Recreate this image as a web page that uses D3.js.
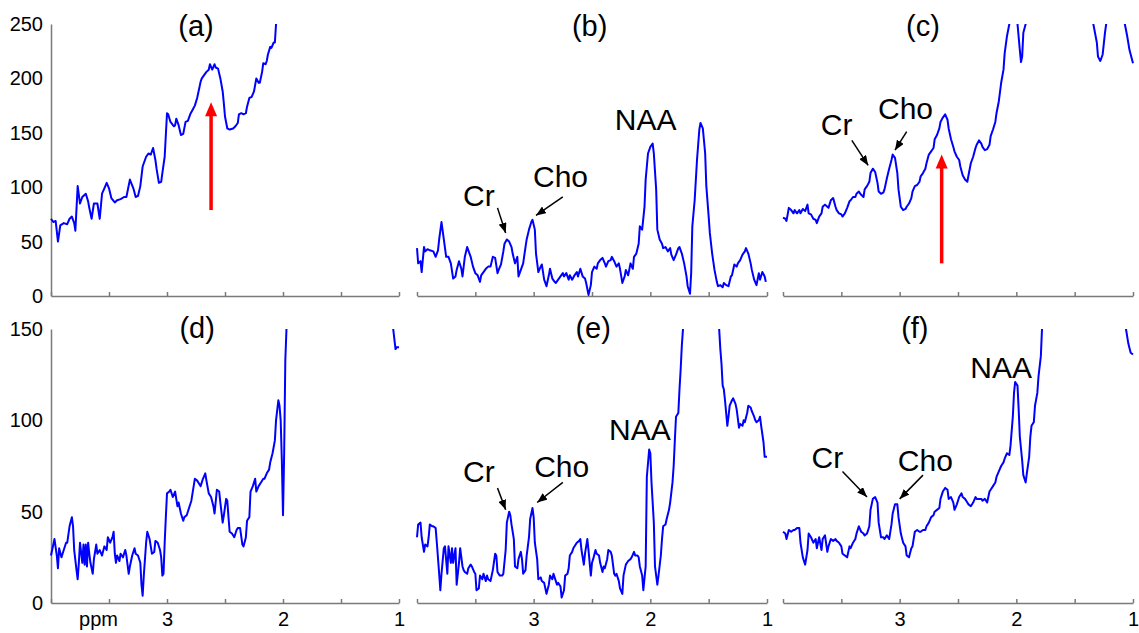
<!DOCTYPE html>
<html>
<head>
<meta charset="utf-8">
<script src="https://cdn.jsdelivr.net/npm/d3@7"></script>
<style>
  body { margin: 0; background: #fff; }
  svg { display: block; font-family: "Liberation Sans", Arial, sans-serif; }
  .axis path, .axis line { stroke: #7a7a7a; stroke-width: 1.5; }
  .axis text { font-size: 20px; fill: #000; font-family: "Liberation Sans", Arial, sans-serif; }
  .spec { fill: none; stroke: #0000ff; stroke-width: 2; stroke-linejoin: round; }
</style>
</head>
<body>
<svg width="1139" height="633"></svg>
<script>
// spectra: [ppm, signal]
const specA = [[4.00,71],[3.98,68],[3.96,69],[3.94,50],[3.92,65],[3.89,67],[3.86,66],[3.84,71],[3.82,73],[3.80,67],[3.79,60],[3.77,101],[3.75,85],[3.73,91],[3.70,94],[3.68,87],[3.67,81],[3.65,71],[3.63,85],[3.60,85],[3.58,71],[3.56,94],[3.54,99],[3.52,104],[3.50,99],[3.48,90],[3.45,86],[3.43,88],[3.40,89],[3.37,91],[3.35,91],[3.32,107],[3.29,99],[3.27,91],[3.25,92],[3.23,101],[3.21,119],[3.18,128],[3.16,131],[3.14,130],[3.12,136],[3.10,125],[3.09,117],[3.07,104],[3.05,105],[3.04,113],[3.02,128],[3.00,168],[2.99,167],[2.97,160],[2.94,156],[2.93,157],[2.92,163],[2.90,157],[2.88,148],[2.86,149],[2.84,160],[2.82,161],[2.80,167],[2.78,171],[2.76,175],[2.74,182],[2.71,197],[2.70,200],[2.68,203],[2.66,206],[2.64,208],[2.63,213],[2.61,208],[2.59,213],[2.58,210],[2.56,209],[2.54,200],[2.52,188],[2.51,177],[2.50,165],[2.48,154],[2.46,153],[2.43,154],[2.41,156],[2.39,159],[2.38,167],[2.36,168],[2.34,167],[2.32,168],[2.31,174],[2.29,182],[2.27,183],[2.25,188],[2.24,194],[2.23,200],[2.21,196],[2.20,196],[2.18,206],[2.17,214],[2.15,213],[2.14,216],[2.13,222],[2.11,229],[2.10,228],[2.08,233],[2.07,233],[2.06,250],[2.03,290],[1.80,380],[1.50,420],[1.20,400],[1.00,380]];

const specB = [[4.00,44],[3.99,30],[3.97,32],[3.96,22],[3.94,45],[3.93,41],[3.91,43],[3.89,42],[3.86,41],[3.84,36],[3.82,42],[3.81,52],[3.79,68],[3.77,52],[3.75,36],[3.73,36],[3.71,30],[3.69,16],[3.67,18],[3.66,24],[3.64,32],[3.62,25],[3.61,18],[3.59,36],[3.57,45],[3.55,39],[3.54,36],[3.52,27],[3.50,21],[3.48,19],[3.46,13],[3.45,19],[3.43,22],[3.41,25],[3.39,27],[3.37,27],[3.35,36],[3.33,35],[3.31,21],[3.30,24],[3.28,29],[3.26,41],[3.25,48],[3.23,52],[3.21,50],[3.19,45],[3.18,39],[3.16,30],[3.14,36],[3.13,18],[3.11,24],[3.09,30],[3.07,45],[3.06,52],[3.04,61],[3.02,68],[3.01,70],[2.99,61],[2.98,39],[2.96,22],[2.94,27],[2.93,29],[2.91,15],[2.89,9],[2.87,19],[2.86,25],[2.84,16],[2.82,13],[2.81,12],[2.79,15],[2.77,18],[2.75,21],[2.74,18],[2.72,21],[2.70,15],[2.69,19],[2.67,15],[2.65,19],[2.63,22],[2.62,18],[2.60,25],[2.58,18],[2.56,16],[2.55,12],[2.53,1],[2.51,10],[2.50,22],[2.48,27],[2.46,25],[2.45,30],[2.43,33],[2.41,35],[2.39,30],[2.38,27],[2.36,32],[2.34,33],[2.33,36],[2.31,32],[2.29,27],[2.27,30],[2.26,25],[2.24,12],[2.22,18],[2.21,24],[2.19,19],[2.17,30],[2.15,25],[2.14,36],[2.12,39],[2.10,48],[2.09,64],[2.07,61],[2.05,82],[2.04,107],[2.02,131],[2.00,137],[1.98,140],[1.97,131],[1.95,98],[1.94,61],[1.92,52],[1.90,48],[1.89,44],[1.87,45],[1.85,41],[1.83,44],[1.82,38],[1.80,33],[1.78,38],[1.76,44],[1.75,45],[1.73,39],[1.71,30],[1.69,18],[1.68,9],[1.66,2],[1.65,21],[1.64,64],[1.62,88],[1.60,125],[1.58,153],[1.57,159],[1.55,154],[1.53,131],[1.52,101],[1.50,73],[1.49,58],[1.47,39],[1.45,24],[1.43,13],[1.42,9],[1.40,10],[1.38,8],[1.37,12],[1.35,10],[1.33,9],[1.31,18],[1.30,19],[1.28,29],[1.26,27],[1.25,30],[1.23,33],[1.21,38],[1.19,41],[1.18,44],[1.16,39],[1.14,30],[1.13,24],[1.11,15],[1.09,10],[1.07,21],[1.06,15],[1.04,22],[1.02,18],[1.01,13]];

const specC = [[4.00,72],[3.98,71],[3.97,69],[3.95,81],[3.93,79],[3.91,76],[3.90,79],[3.88,76],[3.86,79],[3.85,76],[3.83,80],[3.81,78],[3.79,84],[3.78,76],[3.76,75],[3.74,71],[3.72,70],[3.71,67],[3.69,73],[3.67,76],[3.66,82],[3.64,84],[3.62,82],[3.61,81],[3.59,88],[3.57,90],[3.55,82],[3.54,79],[3.52,76],[3.50,75],[3.49,73],[3.47,76],[3.45,81],[3.43,87],[3.42,88],[3.40,91],[3.38,91],[3.37,94],[3.35,96],[3.33,93],[3.31,91],[3.30,98],[3.28,101],[3.26,105],[3.25,113],[3.23,117],[3.21,114],[3.19,104],[3.18,96],[3.16,94],[3.14,95],[3.13,98],[3.11,108],[3.09,117],[3.07,125],[3.06,130],[3.04,127],[3.02,113],[3.01,98],[2.99,82],[2.97,79],[2.95,80],[2.94,82],[2.92,85],[2.90,90],[2.89,96],[2.87,101],[2.85,102],[2.83,105],[2.82,110],[2.80,113],[2.78,117],[2.77,122],[2.75,130],[2.73,133],[2.71,136],[2.70,144],[2.68,148],[2.66,154],[2.65,160],[2.63,164],[2.61,167],[2.59,162],[2.58,154],[2.56,144],[2.54,137],[2.53,133],[2.51,128],[2.49,125],[2.48,119],[2.46,111],[2.44,107],[2.42,105],[2.41,111],[2.39,122],[2.37,128],[2.35,136],[2.34,139],[2.32,143],[2.30,140],[2.29,137],[2.27,134],[2.25,135],[2.23,139],[2.22,147],[2.20,153],[2.18,160],[2.17,168],[2.15,179],[2.13,196],[2.11,208],[2.10,223],[2.08,239],[2.06,250],[2.03,300],[2.00,290],[1.99,250],[1.97,226],[1.96,215],[1.95,220],[1.94,242],[1.92,250],[1.88,300],[1.70,420],[1.55,460],[1.40,330],[1.36,280],[1.34,250],[1.31,233],[1.30,220],[1.28,216],[1.26,222],[1.24,242],[1.23,250],[1.20,290],[1.12,300],[1.09,270],[1.07,250],[1.05,239],[1.03,226],[1.00,214]];

const specD = [[4.00,26],[3.98,32],[3.97,35],[3.95,26],[3.94,19],[3.93,30],[3.91,25],[3.89,29],[3.87,33],[3.86,33],[3.84,42],[3.82,47],[3.81,42],[3.80,29],[3.78,18],[3.77,13],[3.76,22],[3.75,33],[3.73,22],[3.72,32],[3.71,21],[3.70,32],[3.69,20],[3.68,33],[3.67,27],[3.66,22],[3.64,16],[3.63,24],[3.61,32],[3.60,27],[3.58,29],[3.56,26],[3.54,31],[3.52,29],[3.51,36],[3.49,33],[3.47,36],[3.46,39],[3.45,27],[3.44,22],[3.43,26],[3.41,23],[3.40,27],[3.38,25],[3.36,29],[3.35,26],[3.33,16],[3.32,20],[3.30,26],[3.28,30],[3.27,27],[3.25,26],[3.23,22],[3.22,10],[3.21,4],[3.20,15],[3.18,33],[3.17,39],[3.15,35],[3.13,27],[3.11,28],[3.10,34],[3.08,33],[3.06,29],[3.05,25],[3.04,15],[3.03,16],[3.02,33],[3.01,47],[3.00,60],[2.98,61],[2.97,62],[2.95,58],[2.93,61],[2.91,53],[2.90,55],[2.88,49],[2.86,45],[2.85,47],[2.83,48],[2.81,52],[2.79,56],[2.78,60],[2.76,68],[2.74,67],[2.73,66],[2.71,64],[2.69,68],[2.67,71],[2.66,67],[2.64,60],[2.62,58],[2.60,53],[2.59,49],[2.57,62],[2.55,61],[2.54,55],[2.52,44],[2.51,48],[2.49,57],[2.48,56],[2.47,47],[2.46,39],[2.44,38],[2.42,36],[2.40,40],[2.39,41],[2.37,41],[2.35,32],[2.34,31],[2.32,36],[2.31,45],[2.29,47],[2.28,61],[2.26,64],[2.24,68],[2.23,61],[2.21,64],[2.19,66],[2.17,68],[2.16,68],[2.14,71],[2.12,73],[2.11,77],[2.09,82],[2.07,89],[2.06,100],[2.04,111],[2.03,108],[2.02,100],[2.01,78],[2.00,48],[1.99,82],[1.98,133],[1.97,150],[1.95,190],[1.60,260],[1.20,240],[1.07,165],[1.05,150],[1.03,139],[1.02,140],[1.00,140]];

const specE = [[4.00,36],[3.99,43],[3.97,44],[3.96,36],[3.94,28],[3.93,32],[3.91,31],[3.90,36],[3.89,43],[3.87,42],[3.86,42],[3.84,41],[3.83,33],[3.81,16],[3.80,7],[3.79,16],[3.77,30],[3.76,31],[3.74,16],[3.73,31],[3.71,22],[3.70,30],[3.69,22],[3.67,30],[3.66,10],[3.64,22],[3.63,30],[3.61,20],[3.60,18],[3.59,17],[3.57,16],[3.56,19],[3.54,21],[3.53,20],[3.51,17],[3.50,16],[3.49,7],[3.47,8],[3.46,15],[3.44,13],[3.43,16],[3.41,12],[3.40,15],[3.39,13],[3.37,12],[3.35,18],[3.33,27],[3.32,26],[3.31,17],[3.29,15],[3.27,15],[3.26,16],[3.24,29],[3.23,44],[3.21,50],[3.20,48],[3.19,43],[3.17,35],[3.16,20],[3.14,19],[3.13,24],[3.11,28],[3.10,24],[3.09,16],[3.07,18],[3.06,26],[3.04,36],[3.03,46],[3.01,52],[3.00,47],[2.99,33],[2.97,24],[2.96,13],[2.94,14],[2.93,12],[2.91,11],[2.90,8],[2.89,5],[2.87,10],[2.86,15],[2.84,13],[2.83,16],[2.81,12],[2.80,10],[2.79,11],[2.77,9],[2.76,3],[2.74,7],[2.73,15],[2.71,16],[2.70,19],[2.69,26],[2.67,28],[2.66,30],[2.64,32],[2.63,33],[2.61,34],[2.60,35],[2.59,29],[2.57,21],[2.56,27],[2.54,35],[2.53,29],[2.51,15],[2.50,22],[2.49,24],[2.47,29],[2.46,27],[2.44,26],[2.43,22],[2.41,17],[2.40,20],[2.39,19],[2.37,24],[2.36,29],[2.34,28],[2.33,26],[2.31,16],[2.30,15],[2.29,16],[2.27,12],[2.26,8],[2.24,5],[2.23,15],[2.21,21],[2.20,22],[2.19,23],[2.17,24],[2.16,25],[2.14,28],[2.13,26],[2.11,26],[2.10,25],[2.09,20],[2.07,15],[2.06,7],[2.04,20],[2.03,69],[2.01,84],[2.00,82],[1.99,66],[1.97,44],[1.96,20],[1.94,10],[1.93,15],[1.91,26],[1.90,35],[1.89,42],[1.87,43],[1.86,46],[1.84,51],[1.83,55],[1.81,66],[1.80,75],[1.79,89],[1.78,102],[1.76,104],[1.75,117],[1.74,128],[1.73,141],[1.72,150],[1.65,230],[1.50,260],[1.43,200],[1.41,150],[1.40,139],[1.39,131],[1.38,119],[1.37,117],[1.36,111],[1.34,97],[1.33,102],[1.32,108],[1.30,111],[1.29,112],[1.27,109],[1.26,106],[1.24,96],[1.23,98],[1.21,97],[1.20,100],[1.19,99],[1.17,104],[1.16,108],[1.14,107],[1.13,105],[1.11,102],[1.10,100],[1.09,99],[1.07,100],[1.06,102],[1.05,97],[1.03,88],[1.02,80],[1.01,80],[1.00,80]];

const specF = [[4.00,39],[3.98,38],[3.97,35],[3.95,40],[3.93,39],[3.91,40],[3.90,40],[3.88,41],[3.86,41],[3.85,33],[3.83,25],[3.81,21],[3.79,29],[3.78,38],[3.76,36],[3.74,33],[3.72,35],[3.71,30],[3.69,36],[3.67,29],[3.66,35],[3.64,37],[3.62,28],[3.61,31],[3.59,35],[3.57,34],[3.55,35],[3.54,34],[3.52,33],[3.50,31],[3.49,27],[3.47,26],[3.45,25],[3.43,31],[3.42,30],[3.40,33],[3.38,35],[3.37,38],[3.35,42],[3.33,39],[3.31,38],[3.30,37],[3.28,38],[3.26,42],[3.25,51],[3.23,57],[3.21,58],[3.19,55],[3.18,44],[3.16,36],[3.14,36],[3.13,35],[3.11,37],[3.09,35],[3.07,43],[3.06,49],[3.04,54],[3.02,54],[3.01,47],[2.99,38],[2.97,33],[2.95,31],[2.94,26],[2.92,25],[2.90,30],[2.89,31],[2.87,39],[2.85,40],[2.83,39],[2.82,39],[2.80,40],[2.78,40],[2.77,42],[2.75,44],[2.73,47],[2.71,48],[2.70,50],[2.68,51],[2.66,52],[2.65,57],[2.63,61],[2.61,63],[2.59,62],[2.58,57],[2.56,58],[2.54,55],[2.53,51],[2.51,54],[2.49,58],[2.47,60],[2.46,58],[2.44,57],[2.42,55],[2.41,54],[2.39,53],[2.37,55],[2.35,58],[2.34,57],[2.32,57],[2.30,57],[2.29,56],[2.27,57],[2.25,55],[2.23,61],[2.22,62],[2.20,64],[2.18,66],[2.17,69],[2.15,72],[2.13,75],[2.11,77],[2.10,79],[2.08,82],[2.06,81],[2.05,86],[2.03,102],[2.02,115],[2.01,121],[1.99,119],[1.98,106],[1.97,91],[1.95,78],[1.94,70],[1.92,66],[1.91,71],[1.89,80],[1.88,91],[1.87,97],[1.85,99],[1.84,108],[1.82,115],[1.81,124],[1.79,135],[1.78,150],[1.60,250],[1.30,260],[1.10,190],[1.06,150],[1.04,142],[1.02,137],[1.00,136]];

// axis ticks
const ppmTicks = [4, 3.5, 3, 2.5, 2, 1.5, 1];
const ppmLabels = [3, 2, 1];
const yTicksTop = [0, 50, 100, 150, 200, 250];
const yTicksBottom = [0, 50, 100, 150];

// panel titles and where they sit (ppm, signal)
const panelNames = ['(a)', '(b)', '(c)', '(d)', '(e)', '(f)'];
const panelNamePos = [[2.75, 239], [2.52, 239], [2.80, 239], [2.74, 145], [2.49, 145], [2.87, 145]];

// peak annotations
const peakNotes = [
  { p: 1, text: 'Cr',  at: [3.47, 83],  from: [3.31, 81],  to: [3.24, 58] },
  { p: 1, text: 'Cho', at: [2.77, 100], from: [2.75, 91],  to: [2.98, 74] },
  { p: 1, text: 'NAA', at: [2.04, 153] },
  { p: 2, text: 'Cr',  at: [3.54, 148], from: [3.41, 143], to: [3.27, 120] },
  { p: 2, text: 'Cho', at: [2.95, 163], from: [2.94, 151], to: [3.04, 134] },
  { p: 4, text: 'Cr',  at: [3.47, 66],  from: [3.31, 63],  to: [3.24, 51] },
  { p: 4, text: 'Cho', at: [2.76, 69],  from: [2.75, 66],  to: [2.97, 55] },
  { p: 4, text: 'NAA', at: [2.09, 89] },
  { p: 5, text: 'Cr',  at: [3.62, 74],  from: [3.49, 72],  to: [3.28, 58] },
  { p: 5, text: 'Cho', at: [2.78, 72],  from: [2.80, 70],  to: [3.00, 57] },
  { p: 5, text: 'NAA', at: [2.13, 123] }
];

// red arrows: panel, ppm, tail, tip
const redArrows = [
  { p: 0, ppm: 2.62, from: 79, to: 178 },
  { p: 2, ppm: 2.64, from: 30, to: 130 }
];

const specs = [specA, specB, specC, specD, specE, specF];

const svg = d3.select('svg');
const colLeft = [51, 417, 783];
const colRight = [399, 767, 1133];
const rowTop = [24, 329];
const rowBottom = [296, 603];
const rowMax = [250, 150];

svg.append('defs').append('marker')
  .attr('id', 'tip')
  .attr('markerUnits', 'userSpaceOnUse')
  .attr('markerWidth', 10).attr('markerHeight', 8)
  .attr('refX', 10).attr('refY', 4)
  .attr('orient', 'auto')
  .append('path').attr('d', 'M0,0L10,4L0,8Z').attr('fill', '#000');

const panels = specs.map((data, i) => {
  const row = Math.floor(i / 3), col = i % 3;
  const x = d3.scaleLinear().domain([4, 1]).range([colLeft[col], colRight[col]]);
  const y = d3.scaleLinear().domain([0, rowMax[row]]).range([rowBottom[row], rowTop[row]]);
  return { i, row, col, x, y, data };
});

panels.forEach(pn => {
  const { i, row, col, x, y, data } = pn;

  // clip the spectrum to the plot box
  svg.select('defs').append('clipPath').attr('id', 'clip' + i)
    .append('rect')
    .attr('x', colLeft[col] - 3).attr('y', rowTop[row])
    .attr('width', colRight[col] - colLeft[col] + 6)
    .attr('height', rowBottom[row] - rowTop[row] + 6);

  // x axis
  svg.append('g').attr('class', 'axis')
    .attr('transform', `translate(0,${rowBottom[row]})`)
    .call(d3.axisBottom(x).tickValues(ppmTicks).tickSizeInner(-4).tickSizeOuter(0).tickPadding(9)
      .tickFormat(d => (row === 1 && ppmLabels.includes(d)) ? d : ''));

  // y axis only on the left column
  if (col === 0) {
    svg.append('g').attr('class', 'axis')
      .attr('transform', `translate(${colLeft[col]},0)`)
      .call(d3.axisLeft(y).tickValues(row === 0 ? yTicksTop : yTicksBottom).tickSize(0).tickPadding(8));
  }

  svg.append('path')
    .datum(data)
    .attr('class', 'spec')
    .attr('clip-path', `url(#clip${i})`)
    .attr('d', d3.line().x(d => x(d[0])).y(d => y(d[1])));

  // panel name
  svg.append('text')
    .attr('x', x(panelNamePos[i][0])).attr('y', y(panelNamePos[i][1]))
    .attr('text-anchor', 'middle')
    .attr('font-size', 29)
    .text(panelNames[i]);
});

// ppm unit label
svg.append('text')
  .attr('x', panels[3].x(3.59)).attr('y', rowBottom[1] + 23)
  .attr('text-anchor', 'middle')
  .attr('font-size', 20)
  .text('ppm');

// peak labels + pointers
peakNotes.forEach(n => {
  const { x, y } = panels[n.p];
  svg.append('text')
    .attr('x', x(n.at[0])).attr('y', y(n.at[1]))
    .attr('text-anchor', 'middle')
    .attr('font-size', 30)
    .text(n.text);
  if (n.from) {
    svg.append('line')
      .attr('x1', x(n.from[0])).attr('y1', y(n.from[1]))
      .attr('x2', x(n.to[0])).attr('y2', y(n.to[1]))
      .attr('stroke', '#000').attr('stroke-width', 1.5)
      .attr('marker-end', 'url(#tip)');
  }
});

// red arrows
redArrows.forEach(a => {
  const { x, y } = panels[a.p];
  const cx = x(a.ppm), yTip = y(a.to), yTail = y(a.from);
  svg.append('line')
    .attr('x1', cx).attr('x2', cx)
    .attr('y1', yTail).attr('y2', yTip + 12)
    .attr('stroke', '#ff0000').attr('stroke-width', 3.5);
  svg.append('path')
    .attr('d', `M${cx - 6},${yTip + 14}L${cx + 6},${yTip + 14}L${cx},${yTip}Z`)
    .attr('fill', '#ff0000');
});
</script>
</body>
</html>
